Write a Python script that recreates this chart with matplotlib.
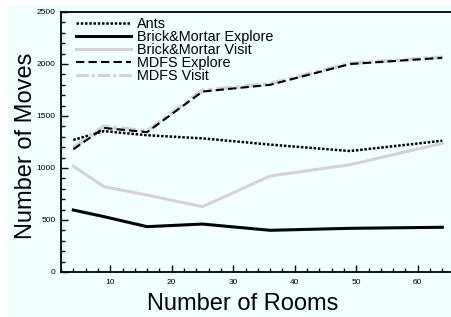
import matplotlib
matplotlib.use("Agg")
import matplotlib.pyplot as plt
from matplotlib.patches import Rectangle
from matplotlib.ticker import MultipleLocator

plt.rcParams['font.family'] = ['Liberation Sans', 'DejaVu Sans']

# data
rooms = [4, 9, 16, 25, 36, 49, 64]
ants = [1270, 1355, 1315, 1285, 1225, 1163, 1262]
bm_explore = [596, 532, 436, 461, 401, 420, 430]
bm_visit = [1019, 820, 740, 628, 923, 1032, 1237]
mdfs_explore = [1180, 1385, 1345, 1735, 1800, 2000, 2060]
mdfs_visit = [1195, 1400, 1355, 1745, 1810, 2005, 2065]

GRAY = '#d6d2d2'
BG = '#f0ffff'

W, H = 452, 317
fig = plt.figure(figsize=(W / 100, H / 100), dpi=100, facecolor='white')
fig.patches.append(Rectangle((8 / W, 0), 1 - 8 / W, (H - 5) / H,
                             transform=fig.transFigure, facecolor=BG,
                             edgecolor='none', zorder=-1))

left, right, top, bottom = 61, 452, 12, 272
ax = fig.add_axes([left / W, (H - bottom) / H, (right - left) / W, (bottom - top) / H])
ax.set_facecolor(BG)

ax.plot(rooms, ants, color='black', lw=1.8, linestyle=(0, (1, 0.7)), label='Ants')
ax.plot(rooms, bm_explore, color='black', lw=2.2, label='Brick&Mortar Explore')
ax.plot(rooms, bm_visit, color=GRAY, lw=2.2, label='Brick&Mortar Visit')
ax.plot(rooms, mdfs_visit, color=GRAY, lw=2.8, linestyle=(0, (4, 1, 1, 1)), zorder=2.5)
ax.plot(rooms, mdfs_explore, color='black', lw=1.5, linestyle=(0, (4, 2)),
        label='MDFS Explore', zorder=2.6)
ax.plot([], [], color=GRAY, lw=2.2, linestyle=(0, (4, 1, 1, 1)), label='MDFS Visit')

ax.set_xlim(2, 2 + (right - left) / 6.15)
ax.set_ylim(0, 2500)
ax.xaxis.set_major_locator(MultipleLocator(10))
ax.xaxis.set_minor_locator(MultipleLocator(2))
ax.yaxis.set_major_locator(MultipleLocator(500))
ax.yaxis.set_minor_locator(MultipleLocator(100))
ax.tick_params(which='both', direction='in', width=1, labelsize=6)
ax.tick_params(which='major', length=5)
ax.tick_params(which='minor', length=3)
ax.tick_params(axis='x', pad=5)
ax.tick_params(axis='y', pad=4)
for s in ['left', 'bottom', 'top']:
    ax.spines[s].set_linewidth(1.3)
ax.spines['right'].set_visible(False)

ax.set_xlabel('Number of Rooms', fontsize=17, va='baseline')
ax.xaxis.set_label_coords((243 - left) / (right - left), (bottom - 310) / (bottom - top))
ax.set_ylabel('Number of Moves', fontsize=17, va='baseline')
ax.yaxis.set_label_coords((32 - left) / (right - left), (bottom - 146) / (bottom - top))

ax.legend(loc='upper left', frameon=False, fontsize=10.4, borderpad=0, borderaxespad=0,
          labelspacing=-0.07, handlelength=3.8, handletextpad=0.42,
          bbox_to_anchor=((76 - left) / (right - left), (bottom - 17.5) / (bottom - top)))

fig.savefig('out.png', dpi=100, facecolor=fig.get_facecolor())
